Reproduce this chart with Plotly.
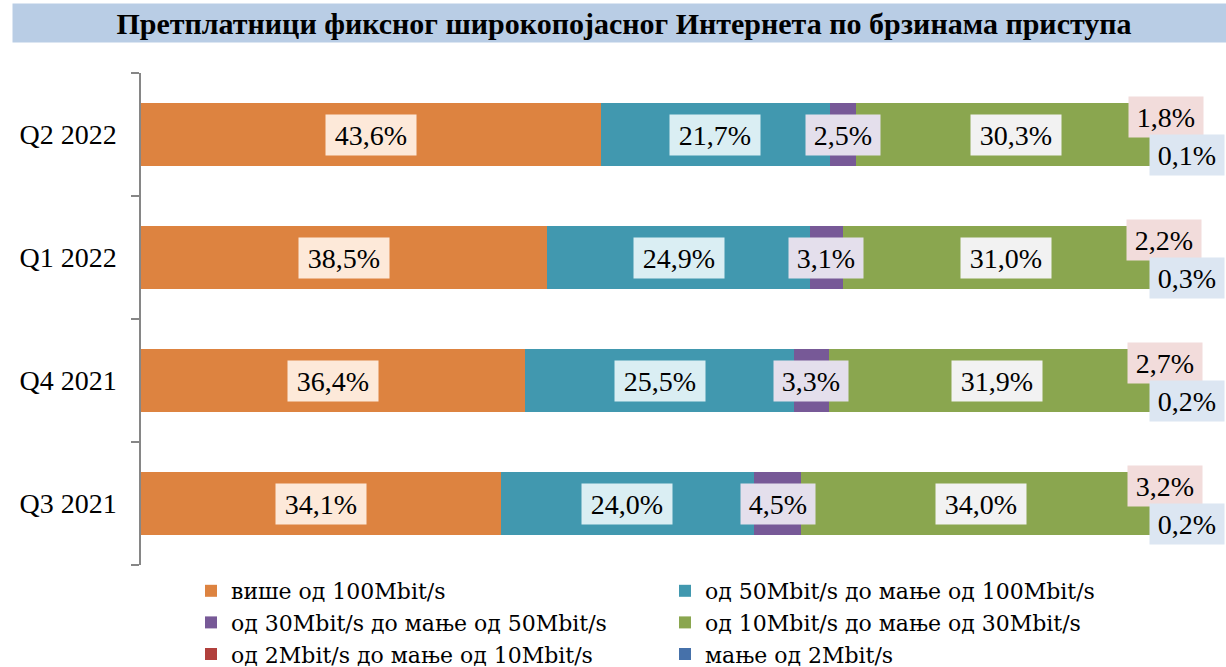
import plotly.graph_objects as go

categories = ["Q3 2021", "Q4 2021", "Q1 2022", "Q2 2022"]
series_names = [
    "више од 100Mbit/s",
    "од 50Mbit/s до мање од 100Mbit/s",
    "од 30Mbit/s до мање од 50Mbit/s",
    "од 10Mbit/s до мање од 30Mbit/s",
    "од 2Mbit/s до мање од 10Mbit/s",
    "мање од 2Mbit/s",
]
v_over100 = [34.1, 36.4, 38.5, 43.6]
v_50_100 = [24.0, 25.5, 24.9, 21.7]
v_30_50 = [4.5, 3.3, 3.1, 2.5]
v_10_30 = [34.0, 31.9, 31.0, 30.3]
v_2_10 = [3.2, 2.7, 2.2, 1.8]
v_under2 = [0.2, 0.2, 0.3, 0.1]
title_text = "Претплатници фиксног широкопојасног Интернета по брзинама приступа"

series_values = [v_over100, v_50_100, v_30_50, v_10_30, v_2_10, v_under2]
colors = ["#DD8340", "#4198AF", "#775997", "#8AA64F", "#B1403C", "#4671AA"]
label_bg = ["#FDE9D9", "#DAEEF3", "#E4DFEC", "#F2F2F2", "#F2DCDB", "#DCE6F2"]

FONT = "Liberation Serif"

fig = go.Figure()
for name, vals, col in zip(series_names, series_values, colors):
    fig.add_trace(go.Bar(
        y=categories, x=vals, name=name, orientation="h",
        marker=dict(color=col, line=dict(width=0)),
        hoverinfo="x+y+name",
    ))

def fmt(v):
    return f"{v:.1f}%".replace(".", ",")

annotations = []
for ci, cat in enumerate(categories):
    cum = 0.0
    for si, vals in enumerate(series_values):
        v = vals[ci]
        start = cum
        cum += v
        txt = fmt(v)
        w = 88 if len(txt) >= 5 else 72
        common = dict(
            text=txt, xref="x", yref="y", y=cat, showarrow=False,
            font=dict(family=FONT, size=28, color="#000000"),
            bgcolor=label_bg[si], borderpad=1, width=w, height=38,
        )
        if si <= 3:
            annotations.append(dict(x=(start + cum) / 2, xanchor="center", **common))
        elif si == 4:
            annotations.append(dict(x=cum, xanchor="right", xshift=9, yshift=18, **common))
        else:
            annotations.append(dict(x=cum, xanchor="right", xshift=29, yshift=-20, **common))

# title band
annotations.append(dict(
    text="<b>" + title_text + "</b>", xref="paper", yref="paper",
    x=(624 - 141) / 1055, y=(565 - 23) / 492, xanchor="center", yanchor="middle",
    showarrow=False, font=dict(family=FONT, size=30, color="#000000"),
    bgcolor="#B9CDE5", width=1222, height=38, borderpad=0,
))

fig.update_layout(
    width=1226, height=667,
    margin=dict(l=141, r=30, t=73, b=102, autoexpand=False),
    paper_bgcolor="white", plot_bgcolor="white",
    barmode="stack", bargap=0.49,
    font=dict(family=FONT, size=26, color="#000000"),
    xaxis=dict(range=[0, 100], visible=False, fixedrange=True),
    yaxis=dict(
        type="category", categoryorder="array", categoryarray=categories,
        showline=True, linecolor="#868686", linewidth=1.5,
        ticks="outside", tickson="boundaries", ticklen=8, tickcolor="#868686", tickwidth=1.5,
        ticklabelstandoff=17, showgrid=False, zeroline=False, automargin=False,
        tickfont=dict(family=FONT, size=28, color="#000000"),
    ),
    legend=dict(
        orientation="h", x=(191 - 141) / 1055, y=(565 - 570) / 492,
        xanchor="left", yanchor="top",
        entrywidth=429, entrywidthmode="pixels",
        font=dict(family="DejaVu Serif", size=22), traceorder="normal",
        itemclick=False, itemdoubleclick=False,
    ),
    annotations=annotations,
    showlegend=True,
)

fig.write_html(
    "out.html",
    config={"displayModeBar": False},
    post_script="document.body.style.margin='0';document.body.style.overflow='hidden';",
)
